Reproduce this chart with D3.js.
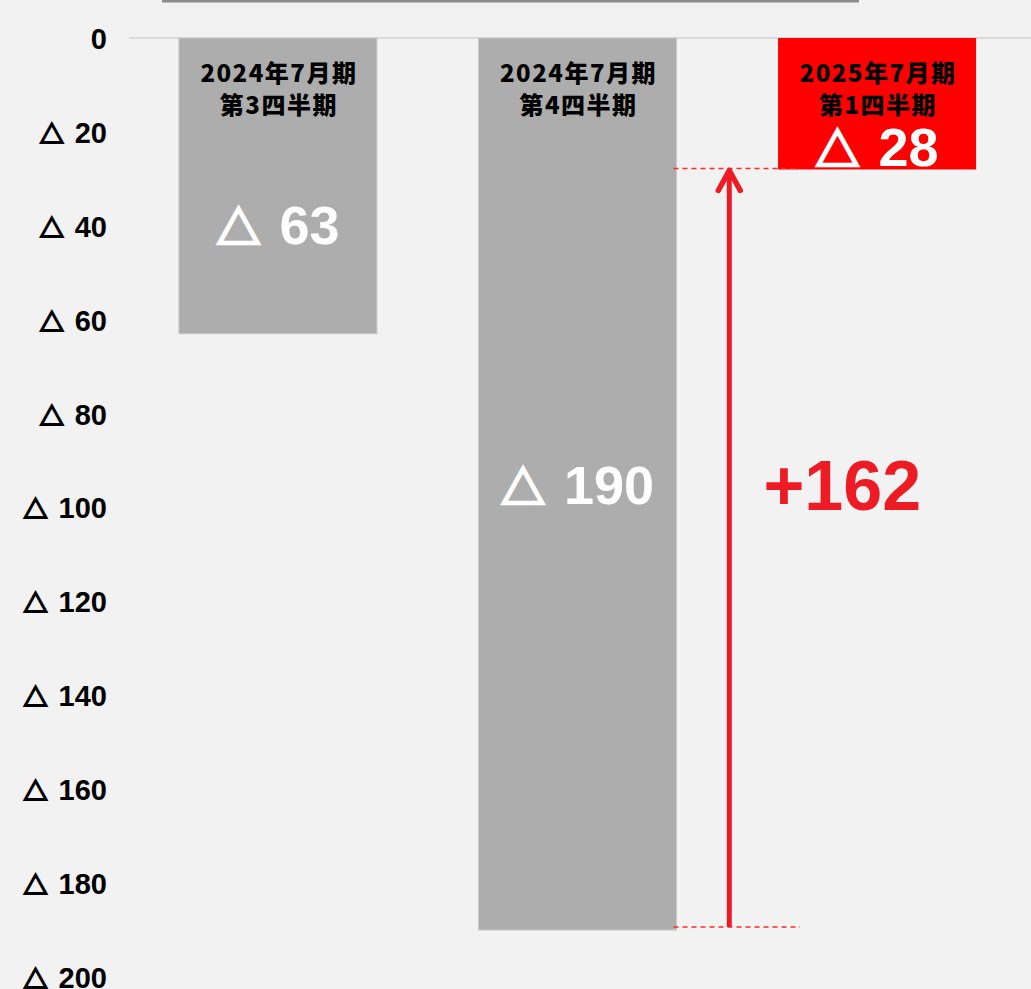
<!DOCTYPE html>
<html lang="ja">
<head>
<meta charset="utf-8">
<script src="https://cdn.jsdelivr.net/npm/d3@7"></script>
<style>
  html, body { margin: 0; padding: 0; background: #f2f2f2; }
  svg { display: block; }
</style>
</head>
<body>
<svg id="chart" width="1031" height="989"></svg>
<script>
// Quarterly operating loss (units, shown with △ as negative)
const periods = ["2024年7月期", "2024年7月期", "2025年7月期"];
const quarters = ["第3四半期", "第4四半期", "第1四半期"];
const losses = [63, 190, 28];
const barColors = ["#adadad", "#adadad", "#ff0000"];
const tickValues = [0, 20, 40, 60, 80, 100, 120, 140, 160, 180, 200];
const improvement = losses[1] - losses[2]; // 162

const W = 1031, H = 989;
const svg = d3.select("#chart");
const tri = "△";
const cjk = "'Noto Sans CJK JP', sans-serif";
const latin = "'Liberation Sans', Arial, sans-serif";

const y = d3.scaleLinear().domain([0, 200]).range([38, 977]);
const x = d3.scaleBand()
  .domain(d3.range(losses.length))
  .range([128, 1027])
  .paddingInner(0.339)
  .paddingOuter(0.17);

// header rule
svg.append("line")
  .attr("x1", 162).attr("x2", 859).attr("y1", 1).attr("y2", 1)
  .attr("stroke", "#8c8c8c").attr("stroke-width", 3);

// zero gridline
svg.append("line")
  .attr("x1", 129).attr("x2", W).attr("y1", y(0)).attr("y2", y(0))
  .attr("stroke", "#dadada").attr("stroke-width", 2);

// negative value: heavy triangle, then the number after a gap
function writeNegative(t, value, color, size, weight, gap) {
  t.append("tspan")
    .style("font-family", cjk)
    .style("font-size", size + "px")
    .attr("stroke", color)
    .attr("stroke-width", weight)
    .attr("stroke-linejoin", "miter")
    .text(tri);
  t.append("tspan").attr("dx", gap).text(value);
}

// y axis labels
const axis = d3.axisLeft(y).tickValues(tickValues).tickSize(0).tickPadding(0)
  .tickFormat(d => d);
const gAxis = svg.append("g").attr("transform", "translate(107,0)").call(axis);
gAxis.select(".domain").remove();
gAxis.selectAll(".tick text").each(function(d) {
  const t = d3.select(this);
  t.text(null)
    .attr("fill", "#000")
    .attr("x", 0)
    .attr("dy", "0.36em")
    .attr("text-anchor", "end")
    .style("font-family", latin)
    .style("font-weight", "bold")
    .style("font-size", "29px");
  if (d === 0) t.text(d);
  else writeNegative(t, d, "#000", 24, 1.8, 11);
});

// bars
svg.append("g").selectAll("rect")
  .data(losses)
  .join("rect")
  .attr("x", (d, i) => x(i))
  .attr("y", y(0))
  .attr("width", x.bandwidth())
  .attr("height", d => y(d) - y(0))
  .attr("fill", (d, i) => barColors[i])
  .attr("stroke", (d, i) => i < 2 ? "#cacaca" : "none")
  .attr("stroke-width", 1);

// category labels
const cats = svg.append("g");
losses.forEach((d, i) => {
  const cx = x(i) + x.bandwidth() / 2;
  [periods[i], quarters[i]].forEach((s, k) => {
    cats.append("text")
      .attr("x", cx + 1)
      .attr("y", 82 + k * 32)
      .attr("text-anchor", "middle")
      .style("font-family", cjk)
      .style("font-weight", "900")
      .style("font-size", "24px")
      .style("letter-spacing", "1.5px")
      .attr("fill", "#000")
      .text(s);
  });
});

// value labels: short bars centre the value below the category text
const labelTop = 115, labelMinCenter = 146;
losses.forEach((d, i) => {
  const cx = x(i) + x.bandwidth() / 2;
  const mid = (y(0) + y(d)) / 2;
  const center = d < 100 ? Math.max((labelTop + y(d)) / 2, labelMinCenter) : mid;
  const t = svg.append("text")
    .attr("x", cx)
    .attr("y", center + 20)
    .attr("text-anchor", "middle")
    .attr("fill", "#fff")
    .style("font-family", latin)
    .style("font-weight", "bold")
    .style("font-size", "54px");
  writeNegative(t, d, "#fff", 44, 2.6, 19);
});

// change annotation
const red = "#ed1c24";
const ax = (x(1) + x.bandwidth() + x(2)) / 2 + 2;
const yLow = y(losses[1]) - 3;
const yHigh = y(losses[2]) - 1;
[yLow, yHigh].forEach(yy => {
  svg.append("line")
    .attr("x1", x(1) + x.bandwidth() - 3).attr("x2", 800)
    .attr("y1", yy).attr("y2", yy)
    .attr("stroke", "#ff2a2a").attr("stroke-width", 1.5)
    .attr("stroke-dasharray", "5,4");
});
svg.append("line")
  .attr("x1", ax).attr("x2", ax).attr("y1", yLow).attr("y2", yHigh + 4)
  .attr("stroke", red).attr("stroke-width", 5);
svg.append("path")
  .attr("d", `M${ax - 11},${yHigh + 22}L${ax},${yHigh + 2}L${ax + 11},${yHigh + 22}`)
  .attr("fill", "none").attr("stroke", red).attr("stroke-width", 5.5)
  .attr("stroke-linecap", "round").attr("stroke-linejoin", "round");

svg.append("text")
  .attr("x", ax + 113)
  .attr("y", (y(0) + y(losses[1])) / 2 + 26)
  .attr("text-anchor", "middle")
  .attr("fill", red)
  .style("font-family", latin)
  .style("font-weight", "bold")
  .style("font-size", "70px")
  .text("+" + improvement);
</script>
</body>
</html>
